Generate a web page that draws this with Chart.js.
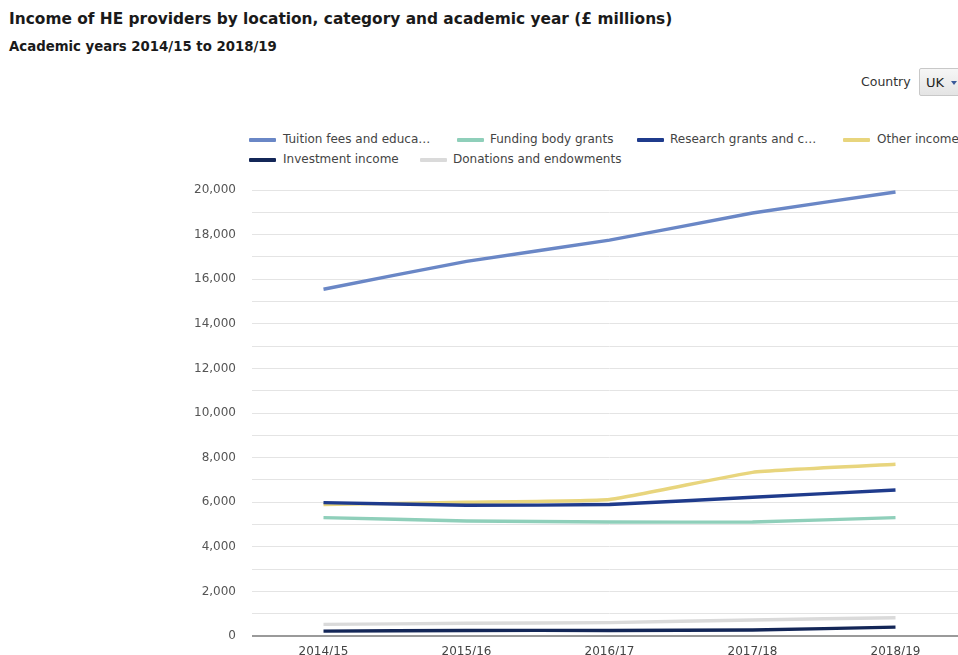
<!DOCTYPE html>
<html>
<head>
<meta charset="utf-8">
<script src="https://cdn.jsdelivr.net/npm/chart.js@4"></script>
<style>
  html, body { margin:0; padding:0; background:#fff; overflow:hidden; width:958px; height:655px; }
  body { position:relative; font-family:"DejaVu Sans", sans-serif; color:#222; }
  #title { position:absolute; left:9px; top:10px; font-size:15.4px; font-weight:bold; color:#1a1a1a; white-space:nowrap; }
  #subtitle { position:absolute; left:9px; top:39px; font-size:13.3px; font-weight:bold; color:#1a1a1a; white-space:nowrap; }
  #country { position:absolute; left:861px; top:74px; font-size:12.5px; color:#333; }
  #dd { position:absolute; left:919px; top:68px; width:50px; height:28px; box-sizing:border-box; border:1px solid #c8c8c8; border-radius:2px; background:linear-gradient(#f6f6f6,#e4e4e4); font-size:13px; color:#222; }
  #dd span { position:absolute; left:6px; top:6px; }
  #dd i { position:absolute; left:31px; top:12px; width:0; height:0; border-left:3px solid transparent; border-right:3px solid transparent; border-top:4px solid #3a5a9a; }
  .leg { position:absolute; font-size:12px; color:#444; white-space:nowrap; }
  .sw { position:absolute; height:4px; border-radius:1px; }
  canvas { position:absolute; left:0; top:0; }
</style>
</head>
<body>
<div id="title">Income of HE providers by location, category and academic year (£ millions)</div>
<div id="subtitle">Academic years 2014/15 to 2018/19</div>
<div id="country">Country</div>
<div id="dd"><span>UK</span><i></i></div>
<div id="legend"></div>
<canvas id="c" width="968" height="670" style="width:968px;height:670px"></canvas>
<script>
const categories = ["2014/15", "2015/16", "2016/17", "2017/18", "2018/19"];
const seriesNames = ["Tuition fees and educa\u2026", "Funding body grants", "Research grants and c\u2026", "Other income", "Investment income", "Donations and endowments"];
const tuitionFees = [15550, 16800, 17750, 18970, 19910];
const fundingBodyGrants = [5310, 5160, 5110, 5110, 5310];
const researchGrants = [5980, 5860, 5900, 6220, 6550];
const otherIncome = [5900, 6000, 6120, 7340, 7700];
const investmentIncome = [220, 250, 250, 270, 400];
const donations = [520, 570, 600, 720, 820];
const seriesColors = ["#6a87c6", "#8fcfba", "#1f3b8c", "#e8d57d", "#132657", "#dadada"];
const yTickValues = [0, 2000, 4000, 6000, 8000, 10000, 12000, 14000, 16000, 18000, 20000];

const seriesData = [tuitionFees, fundingBodyGrants, researchGrants, otherIncome, investmentIncome, donations];

// HTML legend
const legendPos = [
  {sx:249, tx:283, y:132}, {sx:457, tx:490, y:132}, {sx:637, tx:670, y:132}, {sx:843, tx:877, y:132},
  {sx:249, tx:283, y:152}, {sx:420, tx:453, y:152}
];
const legendEl = document.getElementById('legend');
seriesNames.forEach((n, i) => {
  const p = legendPos[i];
  const s = document.createElement('div');
  s.className = 'sw';
  s.style.left = p.sx + 'px'; s.style.top = (p.y + 6) + 'px'; s.style.width = '27px';
  s.style.background = seriesColors[i];
  legendEl.appendChild(s);
  const t = document.createElement('div');
  t.className = 'leg';
  t.style.left = p.tx + 'px'; t.style.top = p.y + 'px';
  t.textContent = n;
  legendEl.appendChild(t);
});

const drawOrder = [5, 4, 1, 2, 3, 0];
new Chart(document.getElementById('c'), {
  type: 'line',
  data: {
    labels: categories,
    datasets: seriesNames.map((n, i) => ({
      label: n,
      data: seriesData[i],
      borderColor: seriesColors[i],
      backgroundColor: seriesColors[i],
      borderWidth: 3.4,
      pointRadius: 0,
      tension: 0.12,
      fill: false,
      order: drawOrder.indexOf(i)
    }))
  },
  options: {
    responsive: false,
    animation: false,
    layout: { padding: { top: 190, left: 0, right: 1, bottom: 0 } },
    plugins: { legend: { display: false }, tooltip: { enabled: false } },
    scales: {
      x: {
        offset: true,
        grid: { display: false, drawTicks: false },
        border: { display: false },
        ticks: { color: '#444', font: { family: 'DejaVu Sans', size: 12 }, padding: 9, maxRotation: 0 },
        afterFit: s => { s.height = 34; }
      },
      y: {
        min: 0, max: 20000,
        grid: {
          drawTicks: false,
          color: c => c.tick && c.tick.value === 0 ? '#9a9a9a' : '#e4e4e4',
          lineWidth: c => c.tick && c.tick.value === 0 ? 2 : 1
        },
        border: { display: false },
        ticks: {
          stepSize: 1000,
          padding: 16,
          color: '#555',
          font: { family: 'DejaVu Sans', size: 12 },
          callback: v => yTickValues.includes(v) ? v.toLocaleString('en-US') : ''
        },
        afterFit: s => { s.width = 252; }
      }
    }
  }
});
</script>
</body>
</html>
